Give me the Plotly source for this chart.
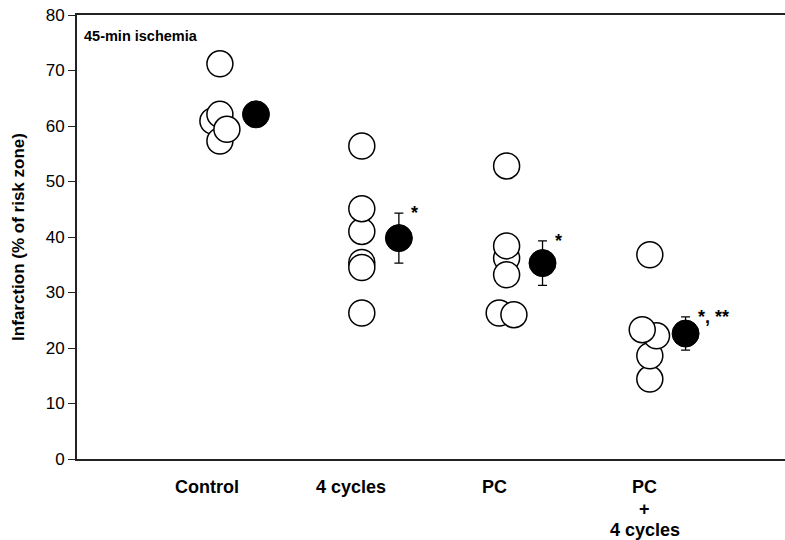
import plotly.graph_objects as go

# Category labels (one list of lines per category) and group centre positions
categories = [["Control"], ["4 cycles"], ["PC"], ["PC", "+", "4 cycles"]]
label_pos = [1.0, 1.99, 2.97, 4.0]

# Individual values (open circles): group index, horizontal jitter, value
ind_group = [0, 0, 0, 0, 0,
             1, 1, 1, 1, 1, 1,
             2, 2, 2, 2, 2, 2,
             3, 3, 3, 3, 3]
ind_jitter = [0.089, 0.041, 0.089, 0.089, 0.137,
              0.071, 0.071, 0.071, 0.071, 0.071, 0.071,
              0.083, 0.083, 0.083, 0.032, 0.133, 0.083,
              0.034, 0.034, 0.034, 0.080, -0.018]
ind_value = [71.2, 60.9, 57.3, 62.1, 59.4,
             56.4, 35.4, 34.5, 41.0, 45.1, 26.3,
             52.8, 36.2, 38.4, 26.3, 26.0, 33.2,
             36.8, 14.4, 18.6, 22.2, 23.3]

# Group means (filled circles) with SE
mean_offset = [0.336, 0.325, 0.329, 0.279]
mean_value = [62.1, 39.8, 35.3, 22.6]
mean_se = [2.0, 4.5, 4.0, 3.0]

# Significance marks
sig_text = ["", "*", "*", "*, **"]

FONT = "Arial, Liberation Sans"

ind_x = [label_pos[g] + j for g, j in zip(ind_group, ind_jitter)]
mean_x = [p + o for p, o in zip(label_pos, mean_offset)]

fig = go.Figure()
fig.add_trace(go.Scatter(
    x=ind_x, y=ind_value, mode="markers",
    marker=dict(size=26, color="white", line=dict(color="black", width=1.5)),
    showlegend=False, hoverinfo="y"))
fig.add_trace(go.Scatter(
    x=mean_x, y=mean_value, mode="markers",
    marker=dict(size=27, color="black", line=dict(color="black", width=1)),
    error_y=dict(type="data", array=mean_se, visible=True, color="black",
                 thickness=1.3, width=4.5),
    showlegend=False, hoverinfo="y"))

for x, y, se, t in zip(mean_x, mean_value, mean_se, sig_text):
    if t:
        fig.add_annotation(x=x, y=y + se, text="<b>" + t + "</b>", showarrow=False,
                           xanchor="left", yanchor="middle", xshift=10, yshift=0,
                           font=dict(family=FONT, size=18, color="black"))

# Category labels below the x axis
for x, lines in zip(label_pos, categories):
    for i, line in enumerate(lines):
        fig.add_annotation(x=x, xref="x", y=0, yref="paper", text="<b>" + line + "</b>",
                           showarrow=False, xanchor="center", yanchor="middle",
                           yshift=-28 - 21.5 * i,
                           font=dict(family=FONT, size=18, color="black"))

fig.add_annotation(xref="paper", yref="paper", x=0.007, y=0.975,
                   text="<b>45-min ischemia</b>", showarrow=False,
                   xanchor="left", yanchor="top",
                   font=dict(family=FONT, size=14.5, color="black"))

fig.update_xaxes(range=[0.11, 4.96], tickvals=label_pos, showticklabels=False,
                 showgrid=False, zeroline=False, showline=True, linecolor="#222",
                 linewidth=1.8, mirror=True, ticks="", automargin=False)
fig.update_yaxes(range=[0, 80], dtick=10, showgrid=False, zeroline=False,
                 showline=True, linecolor="#222", linewidth=1.8,
                 ticks="outside", ticklen=7, tickwidth=1.3, tickcolor="#222",
                 automargin=False,
                 tickfont=dict(family=FONT, size=17, color="black"),
                 title=dict(text="<b>Infarction (% of risk zone)</b>", standoff=17,
                            font=dict(family=FONT, size=17, color="black")))

fig.update_layout(width=785, height=540, margin=dict(l=77, r=0, t=15, b=81),
                  plot_bgcolor="white", paper_bgcolor="white")

fig.write_html("out.html")
